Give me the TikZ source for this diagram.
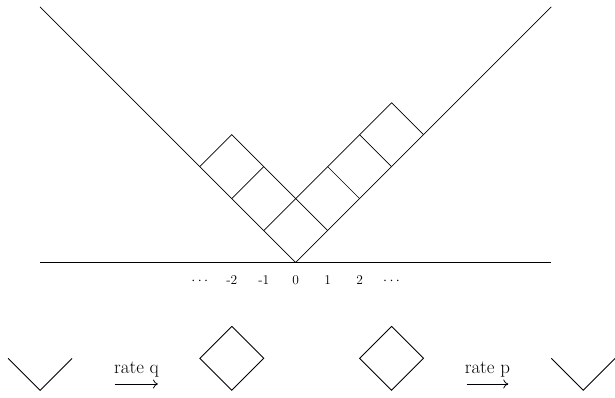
\documentclass[tikz,border=0pt]{standalone}
\usetikzlibrary{arrows.meta}
\begin{document}
\begin{tikzpicture}[x=31.95bp,y=31.95bp,
  thinline/.style={line width=0.7bp},
  baseline rule/.style={line width=1.9bp},
  piece/.style={line width=0.9bp, line join=miter},
  ratearrow/.style={line width=0.75bp, -{Computer Modern Rightarrow[length=5bp,width=9bp]}},
  numlab/.style={font=\fontsize{13.5}{15}\selectfont, anchor=base, inner sep=0pt},
  ratelab/.style={font=\fontsize{19}{21}\selectfont, anchor=base, inner sep=0pt}]
\useasboundingbox (-9.255,-4.241) rectangle (9.994,8.216);
% base line
\draw[baseline rule] (-8,0) -- (8,0);
% wedge
\draw[thinline] (-8,8) -- (0,0) -- (8,8);
% tiles
\draw[thinline] (-3,3) -- (-2,4) -- (1,1);
\draw[thinline] (-2,2) -- (-1,3);
\draw[thinline] (-1,1) -- (3,5) -- (4,4);
\draw[thinline] (1,3) -- (2,2);
\draw[thinline] (2,4) -- (3,3);
% labels
\node[numlab] (lm3) at (-3,-0.704) {$\cdots$};
\node[numlab] (lm2) at (-2,-0.704) {-2};
\node[numlab] (lm1) at (-1,-0.704) {-1};
\node[numlab] (l0) at (0,-0.704) {0};
\node[numlab] (l1) at (1,-0.704) {1};
\node[numlab] (l2) at (2,-0.704) {2};
\node[numlab] (l3) at (3,-0.704) {$\cdots$};
% bottom row
\draw[piece] (-9,-3) -- (-8,-4) -- (-7,-3);
\draw[piece] (-3,-3) -- (-2,-2) -- (-1,-3) -- (-2,-4) -- cycle;
\draw[piece] (2,-3) -- (3,-2) -- (4,-3) -- (3,-4) -- cycle;
\draw[piece] (8,-3) -- (9,-4) -- (10,-3);
% rates
\coordinate (qs) at (-5.656,-3.803);
\coordinate (qe) at (-4.310,-3.803);
\draw[ratearrow] (qs) -- (qe);
\node[ratelab] (rq) at (-4.98,-3.459) {rate q};
\coordinate (ps) at (5.352,-3.803);
\coordinate (pe) at (6.654,-3.803);
\draw[ratearrow] (ps) -- (pe);
\node[ratelab] (rp) at (6.0,-3.459) {rate p};
\end{tikzpicture}
\end{document}
